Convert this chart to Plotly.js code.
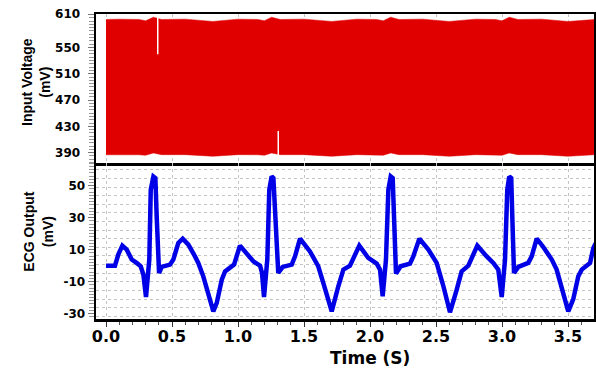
<!DOCTYPE html>
<html><head><meta charset="utf-8">
<script src="https://cdn.plot.ly/plotly-3.0.1.min.js"></script>
<style>html,body{margin:0;padding:0;background:#fff}#chart{width:596px;height:371px}</style>
</head><body><div id="chart"></div>
<script>
// ECG output (bottom panel)
const ecgT = [0,0.068,0.093,0.124,0.157,0.195,0.232,0.263,0.283,0.303,0.328,0.339,0.359,0.374,0.384,0.394,0.402,0.422,0.485,0.51,0.548,0.581,0.624,0.674,0.699,0.737,0.775,0.813,0.839,0.877,0.902,0.939,0.97,
1.015,1.066,1.116,1.167,1.182,1.197,1.222,1.237,1.255,1.268,1.28,1.293,1.305,1.339,1.407,1.432,1.47,1.545,1.608,1.646,1.71,
1.76,1.798,1.848,1.919,1.987,2.051,2.076,2.096,2.121,2.139,2.157,2.172,2.182,2.192,2.197,2.232,2.303,2.328,2.374,2.442,2.505,2.556,2.606,2.657,2.694,2.745,
2.813,2.884,2.934,2.972,2.998,3.023,3.04,3.055,3.07,3.078,3.083,3.091,3.124,3.199,3.225,3.263,3.31,3.377,3.414,3.464,3.502,3.54,3.578,3.604,3.667,3.692,3.71];
const ecgV = [0,0,6.9,12.5,10,3.8,1.7,-0.4,-5.6,-19.6,3.8,47.5,55.8,54.8,30.8,3.8,-4.6,-0.8,0.6,3.8,14.2,16.9,13.1,5.8,1.7,-6.7,-18.1,-28.6,-23.3,-8.8,-3.6,-0.8,0.6,
12.5,7.9,2.7,0,-4.6,-19.6,3.8,47.5,55.8,54.8,30.8,3.8,-4.6,-0.8,0.6,5.8,16.9,8.9,-0.4,-10.8,-28.6,
-12.9,-2.5,0,12.5,4.8,1.3,-2.5,-19.2,3.8,47.5,55.8,54.8,30.8,3.8,-5,-0.4,1.3,5.8,16.9,10,1.7,-12.9,-29.2,-15,-3.6,0,
12.5,5.8,1.7,-2.5,-19.6,3.8,47.5,55.8,54.8,30.8,3.8,-4.6,-0.8,1.7,5.8,16.9,12,3.8,-2.5,-17,-28.6,-21,-6.7,-2.5,1.7,11,14];

// Input voltage envelope (top panel, dense carrier drawn as its envelope)
const envT = [0,0.1,0.25,0.30,0.36,0.42,0.6,0.81,1.0,1.15,1.20,1.255,1.32,1.5,1.71,1.9,2.05,2.10,2.157,2.22,2.4,2.6,2.8,2.95,3.0,3.055,3.12,3.3,3.5,3.71];
const envUpper = [592.5,593,592.5,590.5,596,592.5,593,589.5,593,592.5,590.5,596,592.5,593,589.5,593,592.5,590.5,596,592.5,593,589.5,593,592.5,590.5,596,592.5,593,589.5,592.5];
const envLower = [386.8,387,386.8,386,389.5,387,387,384.5,387,386.8,386,389.5,387,387,384.5,387,386.8,386,389.5,387,387,384.5,387,386.8,386,389.5,387,387,384.5,387];

// dropouts in the input signal
const gap1T = [0.392,0.392], gap1V = [597,539.6];
const gap2T = [1.305,1.305], gap2V = [423,384];

// tick labels
const topTickVals = [390,430,470,510,550,600.7];
const topTickText = ['390','430','470','510','550','610'];
const botTickVals = [-30,-10,10,30,50];
const botTickText = ['-30','-10','10','30','50'];

const RED = '#e00000', BLUE = '#0000e6';
const tickFont = {family:'DejaVu Sans, sans-serif', size:12, color:'#000', weight:'bold'};
const grid = {showgrid:true, gridcolor:'#c4c4c4', griddash:'dot', gridwidth:1};

const traces = [
  {x:envT, y:envLower, xaxis:'x', yaxis:'y', mode:'lines', line:{color:RED,width:0.5}, hoverinfo:'skip', showlegend:false},
  {x:envT, y:envUpper, xaxis:'x', yaxis:'y', mode:'lines', fill:'tonexty', fillcolor:RED, line:{color:RED,width:0.5}, showlegend:false},
  {x:gap1T, y:gap1V, xaxis:'x', yaxis:'y', mode:'lines', line:{color:'#ffffff',width:1.5}, showlegend:false},
  {x:gap2T, y:gap2V, xaxis:'x', yaxis:'y', mode:'lines', line:{color:'#ffffff',width:1.5}, showlegend:false},
  {x:ecgT, y:ecgV, xaxis:'x2', yaxis:'y2', mode:'lines', line:{color:BLUE,width:4.5}, showlegend:false}
];

const xr = [-0.0758, 3.697];
const layout = {
  width:596, height:371,
  margin:{l:96, r:2, t:14, b:51.5},
  paper_bgcolor:'#fff', plot_bgcolor:'#fff',
  showlegend:false,
  xaxis: Object.assign({domain:[0,1], anchor:'y', range:xr, tick0:0, dtick:0.5, showticklabels:false, ticks:'',
    showline:true, mirror:true, linecolor:'#000', linewidth:2.5, zeroline:false}, grid),
  yaxis: {domain:[0.5113,1], anchor:'x', range:[374.2,600.8], tickmode:'array', tickvals:topTickVals, ticktext:topTickText,
    ticks:'outside', ticklen:6, tickcolor:'#777', tickfont:tickFont, ticklabelstandoff:5,
    minor:{tick0:0, dtick:5, ticks:'outside', ticklen:5, tickcolor:'#999', showgrid:false},
    showline:true, mirror:true, linecolor:'#000', linewidth:2.5, showgrid:false, zeroline:false},
  xaxis2: Object.assign({domain:[0,1], anchor:'y2', range:xr, tick0:0, dtick:0.5, tickformat:'.1f',
    ticks:'outside', ticklen:5, tickcolor:'#333', tickfont:Object.assign({}, tickFont, {size:16}), ticklabelstandoff:-4,
    minor:{dtick:0.1, ticks:'outside', ticklen:3, tickcolor:'#555', showgrid:false},
    showline:true, mirror:false, linecolor:'#000', linewidth:2.5, zeroline:false}, grid),
  yaxis2: {domain:[0,0.5113], anchor:'x2', range:[-33.4,64.2], tickmode:'array', tickvals:botTickVals, ticktext:botTickText,
    ticks:'outside', ticklen:6, tickcolor:'#777', tickfont:tickFont,
    minor:{tick0:0, dtick:2, ticks:'outside', ticklen:5, tickcolor:'#999', showgrid:false},
    showline:true, mirror:true, linecolor:'#000', linewidth:2.5, showgrid:false, zeroline:false},
  yaxis3: Object.assign({overlaying:'y2', anchor:'x2', range:[-0.32,17.78], tick0:0, dtick:1, showticklabels:false, ticks:'',
    showline:false, zeroline:false}, grid),
  annotations:[
    {text:'Input Voltage<br>(mV)', xref:'paper', yref:'paper', x:-0.1205, y:0.777, xanchor:'center', yanchor:'middle',
     textangle:-90, showarrow:false, font:{family:'Liberation Sans, Arial, sans-serif', size:14, color:'#000', weight:'bold'}},
    {text:'ECG Output<br>(mV)', xref:'paper', yref:'paper', x:-0.1165, y:0.2864, xanchor:'center', yanchor:'middle',
     textangle:-90, showarrow:false, font:{family:'Liberation Sans, Arial, sans-serif', size:14, color:'#000', weight:'bold'}},
    {text:'Time (S)', xref:'paper', yref:'paper', x:0.5502, y:-0.1293, xanchor:'center', yanchor:'middle',
     showarrow:false, font:{family:'DejaVu Sans, sans-serif', size:17, color:'#000', weight:'bold'}}
  ]
};
// invisible anchor point so the overlay grid axis is drawn
traces.push({x:[xr[0]], y:[0], xaxis:'x2', yaxis:'y3', mode:'markers', marker:{opacity:0}, hoverinfo:'skip', showlegend:false});
Plotly.newPlot('chart', traces, layout, {staticPlot:true, displayModeBar:false});
</script></body></html>
